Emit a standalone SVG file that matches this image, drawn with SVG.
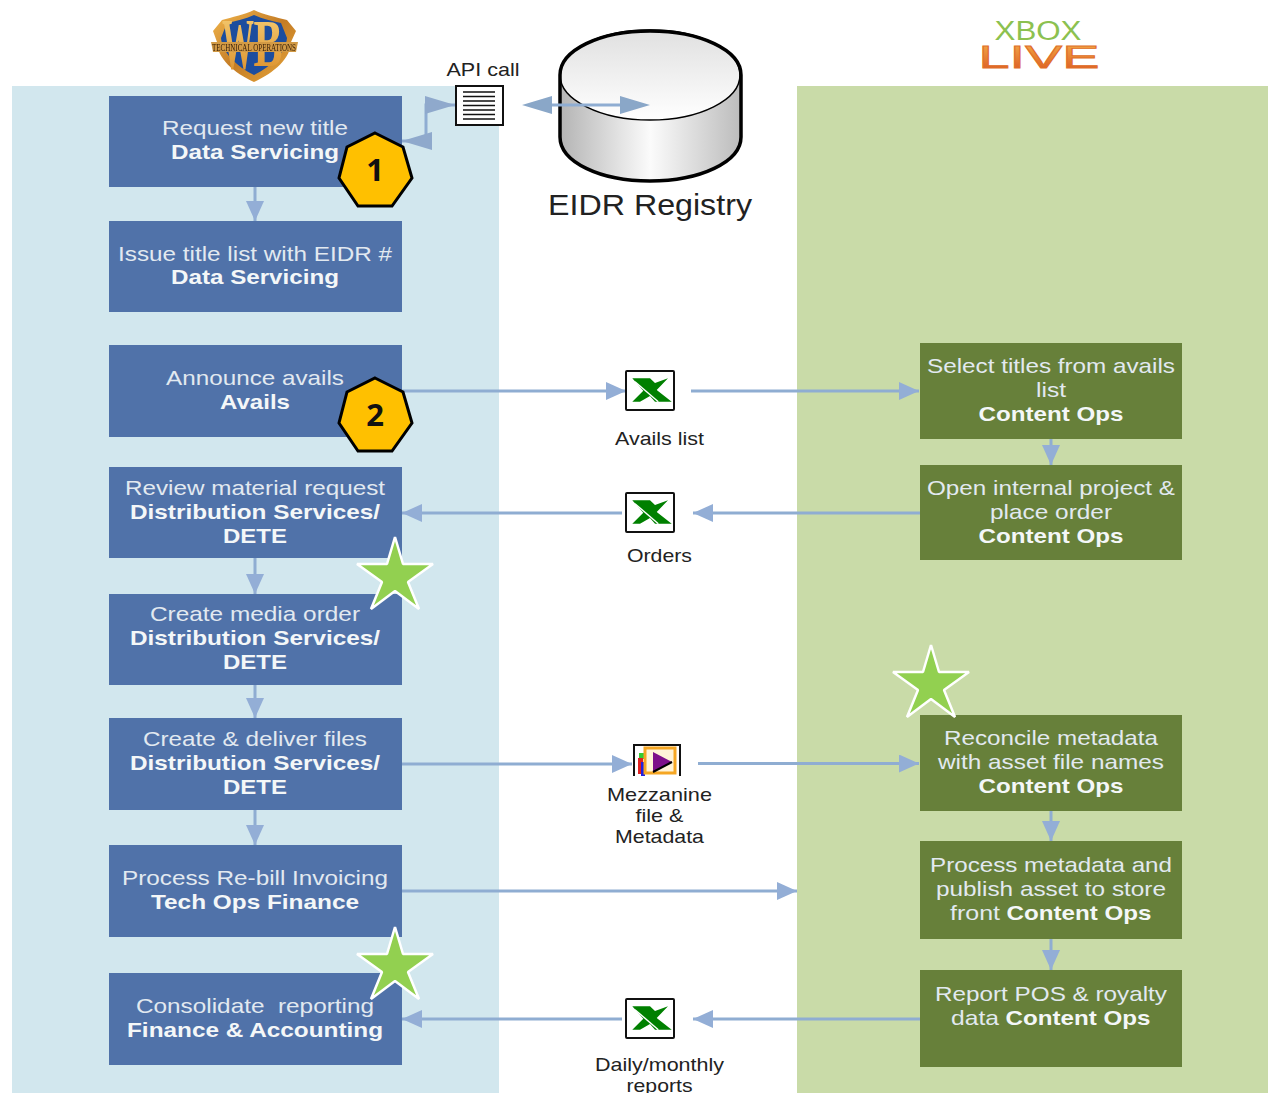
<svg xmlns="http://www.w3.org/2000/svg" width="1268" height="1093" viewBox="0 0 1268 1093">
<style>
text{font-family:"Liberation Sans",Arial,sans-serif}
.t{font-size:21px;fill:#e2e9f0;text-anchor:middle}
.b{font-size:21px;fill:#f4f7f8;font-weight:bold;text-anchor:middle}
.l{font-size:19px;fill:#222;text-anchor:middle}
.bl{fill:#5072a9}
.gr{fill:#67803a}
.c{fill:none;stroke:#8fadd2;stroke-width:3}
.h{fill:#ffc000;stroke:#000;stroke-width:3}
.n{font-size:31px;font-weight:bold;fill:#111;text-anchor:middle;font-family:"Open Sans","Liberation Sans",sans-serif}
.s{fill:#92d050;stroke:#fff;stroke-width:2.500;stroke-linejoin:bevel}
</style>
<defs>
<marker id="a" markerUnits="userSpaceOnUse" markerWidth="22" markerHeight="20" refX="20" refY="9" orient="auto-start-reverse"><path d="M0 0L20 9L0 18Z" fill="#93aed6"/></marker>
<marker id="a2" markerUnits="userSpaceOnUse" markerWidth="32" markerHeight="22" refX="30" refY="9" orient="auto-start-reverse"><path d="M0 0L30 9L0 18Z" fill="#8fa9cc"/></marker>
<linearGradient id="cyl" x1="0" x2="1" y1="0" y2="0"><stop offset="0" stop-color="#b4b4b4"/><stop offset=".5" stop-color="#fbfbfb"/><stop offset="1" stop-color="#bcbcbc"/></linearGradient>
<linearGradient id="top" x1="0" x2="0" y1="0" y2="1"><stop offset="0" stop-color="#e0e0e0"/><stop offset="1" stop-color="#ffffff"/></linearGradient>
<linearGradient id="gold" x1="0" x2="1" y1="0" y2="1"><stop offset="0" stop-color="#f3b84e"/><stop offset=".5" stop-color="#c47c26"/><stop offset="1" stop-color="#e9a93a"/></linearGradient>
<linearGradient id="wbl" x1="0" x2="0" y1="0" y2="1"><stop offset="0" stop-color="#f7d27a"/><stop offset="1" stop-color="#d98a24"/></linearGradient>
<linearGradient id="org" x1="0" x2="0" y1="0" y2="1"><stop offset="0" stop-color="#f5b24a"/><stop offset="1" stop-color="#d9531e"/></linearGradient>
<filter id="soft"><feGaussianBlur stdDeviation=".7"/></filter>
<g id="xl"><rect x="0" y="0" width="48" height="39" fill="#fff" stroke="#111" stroke-width="2" rx="1"/><path d="M6.300 7.300H24L29 12L42 7.300L30.700 19L45.700 30.700H29L24 25L14 30.700H6.300L17.300 19.700Z" fill="#008000"/><path d="M9 10.700L32.300 30.700" stroke="#fff" stroke-width="1.400"/></g>
<polygon id="hep" points="375,133 403,147 412,178 392,206 358,206 339,178 347,147"/>
<polygon id="star" points="395,537 403,564 433,564 408,582 419,609 395,591 371,609 382,582 357,564 387,564"/>
</defs>
<rect width="1268" height="1093" fill="#fff"/>
<rect x="12" y="86" width="487" height="1007" fill="#d2e7ee"/>
<rect x="797" y="86" width="471" height="1007" fill="#c9dba8"/>

<g id="wb-logo" filter="url(#soft)">
<path d="M254 10C244 15 232 17 222 20L213 31L217 42C217 58 234 73 254 82C274 73 291 58 291 42L296 31L287 20C276 17 264 15 254 10Z" fill="url(#gold)"/>
<path d="M254 15C245 19 236 21 227 23L221 38C222 52 236 66 254 75C272 66 286 52 287 38L281 23C272 21 263 19 254 15Z" fill="#1b4d9e"/>
<text x="238" y="68" font-size="72" font-weight="bold" fill="url(#wbl)" text-anchor="middle" textLength="32" lengthAdjust="spacingAndGlyphs" style="font-family:'Liberation Serif',serif">W</text>
<text x="268" y="66" font-size="68" font-weight="bold" fill="url(#wbl)" text-anchor="middle" textLength="29" lengthAdjust="spacingAndGlyphs" style="font-family:'Liberation Serif',serif">B</text>
<path d="M211 42H298L296 52H213Z" fill="#d29a45"/>
<text x="254" y="50.500" font-size="10" fill="#3d2208" text-anchor="middle" textLength="84" lengthAdjust="spacingAndGlyphs" style="font-family:'Liberation Serif',serif">TECHNICAL OPERATIONS</text>
</g>
<g id="xbox-logo">
<text x="1038" y="40" font-size="27" fill="#8cc150" text-anchor="middle" textLength="87" lengthAdjust="spacingAndGlyphs">XBOX</text>
<text x="1039" y="68" font-size="32" fill="url(#org)" stroke="#e0702a" stroke-width=".8" text-anchor="middle" textLength="121" lengthAdjust="spacingAndGlyphs">LIVE</text>
</g>

<g id="connectors">
<path class="c" d="M255 187V221" marker-end="url(#a)"/>
<path class="c" d="M402 141H426V105H455" marker-start="url(#a2)" marker-end="url(#a2)"/>
<path class="c" d="M402 391H626" marker-end="url(#a)"/>
<path class="c" d="M691 391H919" marker-end="url(#a)"/>
<path class="c" d="M622 513H402" marker-end="url(#a)"/>
<path class="c" d="M920 513H693" marker-end="url(#a)"/>
<path class="c" d="M255 558V594" marker-end="url(#a)"/>
<path class="c" d="M255 685V718" marker-end="url(#a)"/>
<path class="c" d="M255 810V845" marker-end="url(#a)"/>
<path class="c" d="M400 764H632" marker-end="url(#a)"/>
<path class="c" d="M698 763.500H919" marker-end="url(#a)"/>
<path class="c" d="M402 891H797" marker-end="url(#a)"/>
<path class="c" d="M622 1019H402" marker-end="url(#a)"/>
<path class="c" d="M920 1019H693" marker-end="url(#a)"/>
<path class="c" d="M1051 439V465" marker-end="url(#a)"/>
<path class="c" d="M1051 811V841" marker-end="url(#a)"/>
<path class="c" d="M1051 939V970" marker-end="url(#a)"/>
</g>

<g id="n1"><rect class="bl" x="109" y="96" width="293" height="91"/><text class="t" x="255" y="135" textLength="186" lengthAdjust="spacingAndGlyphs">Request new title</text><text class="b" x="255" y="159" textLength="168" lengthAdjust="spacingAndGlyphs">Data Servicing</text></g>
<g id="n2"><rect class="bl" x="109" y="221" width="293" height="91"/><text class="t" x="255" y="261" textLength="274" lengthAdjust="spacingAndGlyphs">Issue title list with EIDR #</text><text class="b" x="255" y="284" textLength="168" lengthAdjust="spacingAndGlyphs">Data Servicing</text></g>
<g id="n3"><rect class="bl" x="109" y="345" width="293" height="92"/><text class="t" x="255" y="385" textLength="178" lengthAdjust="spacingAndGlyphs">Announce avails</text><text class="b" x="255" y="409" textLength="70" lengthAdjust="spacingAndGlyphs">Avails</text></g>
<g id="n4"><rect class="bl" x="109" y="467" width="293" height="91"/><text class="t" x="255" y="495" textLength="260" lengthAdjust="spacingAndGlyphs">Review material request</text><text class="b" x="255" y="519" textLength="250" lengthAdjust="spacingAndGlyphs">Distribution Services/</text><text class="b" x="255" y="543" textLength="64" lengthAdjust="spacingAndGlyphs">DETE</text></g>
<g id="n5"><rect class="bl" x="109" y="594" width="293" height="91"/><text class="t" x="255" y="621" textLength="210" lengthAdjust="spacingAndGlyphs">Create media order</text><text class="b" x="255" y="645" textLength="250" lengthAdjust="spacingAndGlyphs">Distribution Services/</text><text class="b" x="255" y="669" textLength="64" lengthAdjust="spacingAndGlyphs">DETE</text></g>
<g id="n6"><rect class="bl" x="109" y="718" width="293" height="92"/><text class="t" x="255" y="746" textLength="224" lengthAdjust="spacingAndGlyphs">Create &amp; deliver files</text><text class="b" x="255" y="770" textLength="250" lengthAdjust="spacingAndGlyphs">Distribution Services/</text><text class="b" x="255" y="794" textLength="64" lengthAdjust="spacingAndGlyphs">DETE</text></g>
<g id="n7"><rect class="bl" x="109" y="845" width="293" height="92"/><text class="t" x="255" y="885" textLength="266" lengthAdjust="spacingAndGlyphs">Process Re-bill Invoicing</text><text class="b" x="255" y="909" textLength="208" lengthAdjust="spacingAndGlyphs">Tech Ops Finance</text></g>
<g id="n8"><rect class="bl" x="109" y="973" width="293" height="92"/><text class="t" x="255" y="1013" textLength="238" lengthAdjust="spacingAndGlyphs" xml:space="preserve">Consolidate  reporting</text><text class="b" x="255" y="1037" textLength="256" lengthAdjust="spacingAndGlyphs">Finance &amp; Accounting</text></g>

<g id="r1"><rect class="gr" x="920" y="343" width="262" height="96"/><text class="t" x="1051" y="373" textLength="248" lengthAdjust="spacingAndGlyphs">Select titles from avails</text><text class="t" x="1051" y="397" textLength="30" lengthAdjust="spacingAndGlyphs">list</text><text class="b" x="1051" y="421" textLength="145" lengthAdjust="spacingAndGlyphs">Content Ops</text></g>
<g id="r2"><rect class="gr" x="920" y="465" width="262" height="95"/><text class="t" x="1051" y="495" textLength="248" lengthAdjust="spacingAndGlyphs">Open internal project &amp;</text><text class="t" x="1051" y="519" textLength="122" lengthAdjust="spacingAndGlyphs">place order</text><text class="b" x="1051" y="543" textLength="145" lengthAdjust="spacingAndGlyphs">Content Ops</text></g>
<g id="r3"><rect class="gr" x="920" y="715" width="262" height="96"/><text class="t" x="1051" y="745" textLength="214" lengthAdjust="spacingAndGlyphs">Reconcile metadata</text><text class="t" x="1051" y="769" textLength="226" lengthAdjust="spacingAndGlyphs">with asset file names</text><text class="b" x="1051" y="793" textLength="145" lengthAdjust="spacingAndGlyphs">Content Ops</text></g>
<g id="r4"><rect class="gr" x="920" y="841" width="262" height="98"/><text class="t" x="1051" y="872" textLength="242" lengthAdjust="spacingAndGlyphs">Process metadata and</text><text class="t" x="1051" y="896" textLength="230" lengthAdjust="spacingAndGlyphs">publish asset to store</text><text class="t" x="975" y="920" textLength="50" lengthAdjust="spacingAndGlyphs">front</text><text class="b" x="1079" y="920" textLength="145" lengthAdjust="spacingAndGlyphs">Content Ops</text></g>
<g id="r5"><rect class="gr" x="920" y="970" width="262" height="97"/><text class="t" x="1051" y="1001" textLength="232" lengthAdjust="spacingAndGlyphs">Report POS &amp; royalty</text><text class="t" x="975" y="1025" textLength="48" lengthAdjust="spacingAndGlyphs">data</text><text class="b" x="1078" y="1025" textLength="145" lengthAdjust="spacingAndGlyphs">Content Ops</text></g>

<g id="badge1"><use href="#hep" class="h"/><text class="n" x="375" y="181">1</text></g>
<g id="badge2"><use href="#hep" class="h" y="245"/><text class="n" x="375" y="426">2</text></g>
<g id="star1"><use href="#star" class="s"/></g>
<g id="star2"><use href="#star" class="s" y="390"/></g>
<g id="star3"><use href="#star" class="s" x="536" y="108"/></g>

<g id="eidr">
<path d="M560 75V137C560 162 600 181 650 181C700 181 741 162 741 137V75Z" fill="url(#cyl)"/>
<ellipse cx="650" cy="75" rx="90" ry="45" fill="url(#top)" stroke="#000" stroke-width="1.500"/>
<path d="M560 137V75C560 50 600 31 650 31C700 31 741 50 741 75V137C741 162 700 181 650 181C600 181 560 162 560 137Z" fill="none" stroke="#000" stroke-width="3.500"/>
<text x="650" y="215" font-size="29" fill="#222" text-anchor="middle" textLength="204" lengthAdjust="spacingAndGlyphs">EIDR Registry</text>
</g>
<g id="api-link"><path class="c" d="M552 105H620" stroke="#8aa7c8"/><path d="M522 105L552 96V114Z M650 105L620 96V114Z" fill="#8aa7c8"/></g>

<g id="api"><rect x="456" y="86" width="47" height="39" fill="#fff" stroke="#111" stroke-width="2"/><path d="M463 92H495M463 96.500H495M463 101H495M463 105.500H495M463 110H495M463 114.500H495M463 119H495" stroke="#111" stroke-width="1.500"/><text class="l" x="483" y="76" textLength="73" lengthAdjust="spacingAndGlyphs">API call</text></g>
<g id="avails"><use href="#xl" x="626" y="371"/><text class="l" x="659.500" y="445" textLength="89" lengthAdjust="spacingAndGlyphs">Avails list</text></g>
<g id="orders"><use href="#xl" x="626" y="493"/><text class="l" x="659.500" y="562" textLength="65" lengthAdjust="spacingAndGlyphs">Orders</text></g>
<g id="reports"><use href="#xl" x="626" y="999"/><text class="l" x="659.500" y="1071" textLength="129" lengthAdjust="spacingAndGlyphs">Daily/monthly</text><text class="l" x="659.500" y="1092" textLength="66" lengthAdjust="spacingAndGlyphs">reports</text></g>
<g id="mezz">
<path d="M634 776V745H680V776" fill="#fff" stroke="#111" stroke-width="2"/>
<rect x="639" y="753" width="6" height="6" fill="#33cc33"/><rect x="638" y="758" width="5" height="16" fill="#e02020"/><rect x="641" y="762" width="4" height="14" fill="#2020e0"/>
<rect x="645" y="748" width="30" height="25" fill="#fff3d8" stroke="#f5a623" stroke-width="3"/>
<path d="M653 752L672 762L653 772Z" fill="#7d0f8a"/><path d="M653 772L672 762" stroke="#000" stroke-width="2"/>
<text class="l" x="659.500" y="801" textLength="105" lengthAdjust="spacingAndGlyphs">Mezzanine</text><text class="l" x="659.500" y="822" textLength="48" lengthAdjust="spacingAndGlyphs">file &amp;</text><text class="l" x="659.500" y="843" textLength="89" lengthAdjust="spacingAndGlyphs">Metadata</text></g>
</svg>
